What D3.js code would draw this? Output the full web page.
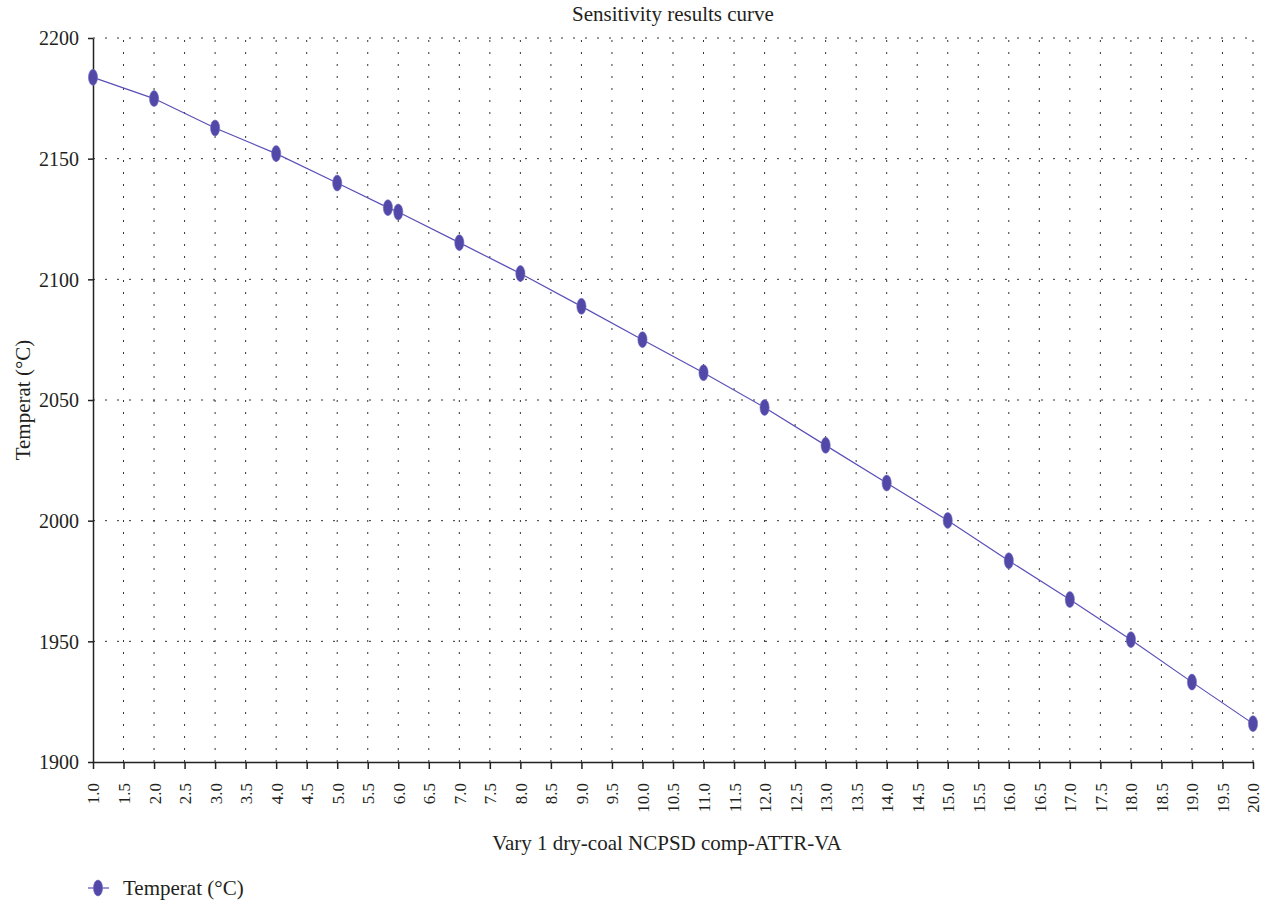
<!DOCTYPE html>
<html>
<head>
<meta charset="utf-8">
<script src="https://cdn.jsdelivr.net/npm/d3@7"></script>
<style>
  html, body { margin: 0; padding: 0; background: #fff; }
  svg { display: block; font-family: "Liberation Serif", "DejaVu Serif", serif; }
</style>
</head>
<body>
<svg id="chart" width="1265" height="902"></svg>
<script>
const titleText = "Sensitivity results curve";
const xLabel = "Vary 1 dry-coal NCPSD comp-ATTR-VA";
const yLabel = "Temperat (°C)";
const seriesName = "Temperat (°C)";

const xValues = [1, 2, 3, 4, 5, 5.83, 6, 7, 8, 9, 10, 11, 12, 13, 14, 15, 16, 17, 18, 19, 20];
const yValues = [2183.7, 2174.9, 2162.7, 2152.1, 2139.9, 2129.7, 2127.9, 2115.2, 2102.4, 2088.8, 2075.0,
                 2061.3, 2046.9, 2031.2, 2015.6, 2000.1, 1983.4, 1967.3, 1950.7, 1933.1, 1915.9];

const xTicks = d3.range(0, 39).map(i => 1 + i * 0.5);
const yTicks = [1900, 1950, 2000, 2050, 2100, 2150, 2200];

(function () {
const svg = d3.select("#chart");
const mLeft = 93, mRight = 1253, mTop = 38, mBottom = 762;
const textColor = "#231f20";
const markColor = "#5148a8";

const x = d3.scaleLinear().domain([1, 20]).range([mLeft, mRight]);
const y = d3.scaleLinear().domain([1900, 2200]).range([mBottom, mTop]);

// grid
const grid = svg.append("g");
grid.selectAll("line.v").data(xTicks.filter(d => d > 1)).enter().append("line")
  .attr("class", "v")
  .attr("x1", d => x(d)).attr("x2", d => x(d))
  .attr("y1", mBottom).attr("y2", mTop)
  .attr("stroke", "#333").attr("stroke-width", 1)
  .attr("stroke-dasharray", "2,10");
grid.selectAll("line.h").data(yTicks.filter(d => d > 1900)).enter().append("line")
  .attr("class", "h")
  .attr("x1", mLeft).attr("x2", mRight)
  .attr("y1", d => y(d)).attr("y2", d => y(d))
  .attr("stroke", "#333").attr("stroke-width", 1)
  .attr("stroke-dasharray", "2,10");

// axes
const xAxis = d3.axisBottom(x).tickValues(xTicks).tickFormat(d3.format(".1f")).tickSize(7).tickSizeOuter(0);
const gx = svg.append("g").attr("transform", `translate(0,${mBottom})`).call(xAxis);
gx.select(".domain").attr("stroke", "#222").attr("stroke-width", 1.5);
gx.selectAll(".tick line").attr("stroke", "#222").attr("stroke-width", 1.5);
gx.selectAll(".tick text")
  .attr("fill", textColor)
  .style("font-size", "17px")
  .style("font-family", "Liberation Serif, serif")
  .attr("text-anchor", "end")
  .attr("transform", "rotate(-90)")
  .attr("x", -21)
  .attr("y", 0)
  .attr("dy", "0.35em");

const yAxis = d3.axisLeft(y).tickValues(yTicks).tickFormat(d3.format("d")).tickSize(5).tickSizeOuter(0);
const gy = svg.append("g").attr("transform", `translate(${mLeft},0)`).call(yAxis);
gy.select(".domain").attr("stroke", "#222").attr("stroke-width", 1.5);
gy.selectAll(".tick line").attr("stroke", "#222").attr("stroke-width", 1.5);
gy.selectAll(".tick text")
  .attr("fill", textColor)
  .style("font-size", "20px")
  .style("font-family", "Liberation Serif, serif")
  .attr("x", -14)
  .attr("dy", "0.34em");

// line
const data = xValues.map((d, i) => ({ x: d, y: yValues[i] }));
svg.append("path").datum(data)
  .attr("fill", "none")
  .attr("stroke", "#5a50b8")
  .attr("stroke-width", 1.2)
  .attr("d", d3.line().x(d => x(d.x)).y(d => y(d.y)));

svg.append("g").selectAll("ellipse").data(data).enter().append("ellipse")
  .attr("cx", d => x(d.x)).attr("cy", d => y(d.y))
  .attr("rx", 4.6).attr("ry", 8)
  .attr("fill", markColor)
  .attr("stroke", "#7a72c4").attr("stroke-width", 0.6);

// title
svg.append("text").attr("x", (mLeft + mRight) / 2).attr("y", 21)
  .attr("text-anchor", "middle").attr("fill", textColor)
  .style("font-size", "21px").text(titleText);

// x label
svg.append("text").attr("x", 667).attr("y", 850)
  .attr("text-anchor", "middle").attr("fill", textColor)
  .style("font-size", "21px").text(xLabel);

// y label
svg.append("text").attr("transform", `translate(30,${(mTop + mBottom) / 2}) rotate(-90)`)
  .attr("text-anchor", "middle").attr("fill", textColor)
  .style("font-size", "21px").text(yLabel);

// legend
const lg = svg.append("g").attr("transform", "translate(98,888)");
lg.append("line").attr("x1", -10).attr("x2", 11).attr("y1", 0).attr("y2", 0)
  .attr("stroke", "#5a50b8").attr("stroke-width", 1.2);
lg.append("ellipse").attr("rx", 4.6).attr("ry", 8).attr("fill", markColor)
  .attr("stroke", "#7a72c4").attr("stroke-width", 0.6);
lg.append("text").attr("x", 25).attr("y", 7).attr("fill", textColor)
  .style("font-size", "21px").text(seriesName);
})();
</script>
</body>
</html>
